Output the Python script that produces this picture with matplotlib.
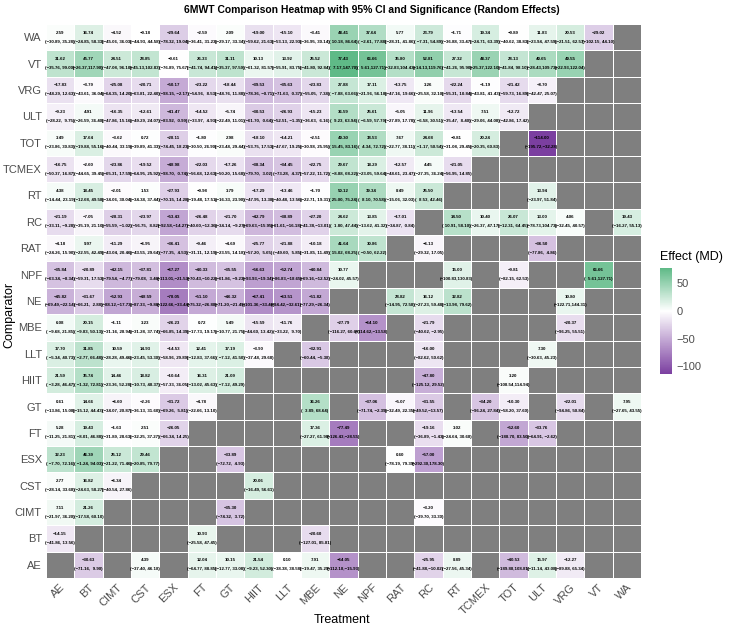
import matplotlib
matplotlib.use("Agg")
import matplotlib.pyplot as plt
import matplotlib.transforms as mtransforms
import numpy as np
from matplotlib.colors import LinearSegmentedColormap, Normalize

plt.rcParams['font.family'] = ['Liberation Sans', 'DejaVu Sans']

N = None
treatments = ["AE", "BT", "CIMT", "CST", "ESX", "FT", "GT", "HIIT", "LLT", "MBE", "NE",
              "NPF", "RAT", "RC", "RT", "TCMEX", "TOT", "ULT", "VRG", "VT", "WA"]
# comparators listed top row first
comparators = ["WA", "VT", "VRG", "ULT", "TOT", "TCMEX", "RT", "RC", "RAT", "NPF", "NE",
               "MBE", "LLT", "HIIT", "GT", "FT", "ESX", "CST", "CIMT", "BT", "AE"]

effect = [
    [2.59, 16.74, -4.52, -0.18, -29.64, -2.59, 2.09, -19.00, -15.10, -3.41, 48.41, 37.64, 5.77, 23.79, -1.71, 19.34, -0.89, 11.83, 20.53, -29.02, N],
    [31.62, 45.77, 24.51, 28.85, -0.61, 26.33, 31.11, 10.13, 13.92, 25.52, 77.43, 66.66, 35.80, 52.81, 27.32, 48.37, 28.13, 40.65, 49.55, N, N],
    [-17.83, -3.79, -25.08, -20.71, -50.17, -23.22, -18.44, -39.53, -35.63, -23.83, 27.88, 17.11, -13.75, 3.26, -22.24, -1.19, -21.42, -8.70, N, N, N],
    [-9.23, 4.91, -16.35, -12.61, -41.47, -14.52, -5.74, -30.53, -26.93, -15.23, 36.59, 25.61, -5.05, 11.96, -13.54, 7.51, -12.72, N, N, N, N],
    [3.49, 17.64, -3.62, 0.72, -28.11, -1.80, 2.98, -18.10, -14.21, -2.51, 49.30, 38.53, 7.67, 24.68, -0.81, 20.24, N, -114.00, N, N, N],
    [-16.75, -2.60, -23.86, -19.52, -48.98, -22.03, -17.26, -38.34, -34.45, -22.75, 29.67, 18.29, -12.57, 4.45, -21.05, N, N, N, N, N, N],
    [4.38, 18.45, -2.01, 1.53, -27.93, -0.98, 3.79, -17.29, -13.46, -1.70, 50.12, 39.34, 8.49, 25.50, N, N, N, 13.94, N, N, N],
    [-21.19, -7.05, -28.31, -23.97, -53.43, -26.48, -21.70, -42.79, -38.89, -27.20, 24.62, 13.85, -17.01, N, 34.50, 10.40, 26.07, 13.00, 4.06, N, 19.43],
    [-4.18, 9.97, -11.29, -6.95, -36.41, -9.46, -4.69, -25.77, -21.88, -10.18, 41.64, 30.86, N, -6.13, N, N, N, -36.50, N, N, N],
    [-35.84, -20.89, -42.15, -37.81, -67.27, -40.33, -35.55, -56.63, -52.74, -40.84, 10.77, N, N, N, 15.00, N, -9.81, N, N, 66.66, N],
    [-45.82, -31.67, -52.93, -48.59, -78.05, -51.10, -46.32, -67.41, -63.51, -51.82, N, N, 28.82, 16.12, 32.82, N, N, N, 10.80, N, N],
    [6.08, 20.15, -1.11, 3.23, -26.23, 0.72, 5.49, -15.59, -11.76, N, -27.79, -64.10, N, -21.79, N, N, N, N, -20.37, N, N],
    [17.70, 31.85, 10.59, 14.93, -14.53, 12.41, 17.19, -3.90, N, -32.91, N, N, N, -16.00, N, N, N, 7.30, N, N, N],
    [21.59, 35.74, 14.46, 18.82, -10.64, 16.31, 21.09, N, N, N, N, N, N, -47.80, N, N, 3.20, N, N, N, N],
    [0.61, 14.66, -6.60, -2.26, -31.72, -4.78, N, N, N, 36.26, N, -37.06, -5.07, -31.55, N, -34.20, -10.30, N, -22.01, N, 7.95],
    [5.28, 19.43, -1.63, 2.51, -26.05, N, N, N, N, 17.36, -77.49, N, N, -19.16, 3.02, N, -52.60, -33.76, N, N, N],
    [32.23, 46.39, 25.12, 29.46, N, N, -33.89, N, N, N, N, N, 0.60, -57.00, N, N, N, N, N, N, N],
    [2.77, 16.82, -6.34, N, N, N, N, 20.06, N, N, N, N, N, N, N, N, N, N, N, N, N],
    [7.11, 21.26, N, N, N, N, -35.30, N, N, N, N, N, N, -3.20, N, N, N, N, N, N, N],
    [-14.15, N, N, N, N, 10.93, N, N, N, -20.60, N, N, N, N, N, N, N, N, N, N, N],
    [N, -30.63, N, 4.39, N, 12.04, 10.15, 21.54, 0.10, 7.91, -64.05, N, N, -25.95, 8.89, N, -40.53, 15.97, -12.27, N, N],
]

ci_low = [
    [-30.89, -24.85, -45.06, -44.93, -78.32, -36.41, -29.17, -59.62, -53.13, -36.95, 10.18, -2.61, -28.31, -7.31, -36.88, -24.71, -40.62, -23.94, -21.51, -102.15, N],
    [-35.76, -26.37, -47.08, -45.13, -76.89, -41.74, -35.37, -61.32, -55.91, -41.80, 7.17, 5.61, -32.83, -14.13, -41.26, -25.37, -41.84, -28.43, -22.93, N, N],
    [-48.29, -43.61, -64.35, -63.81, -98.15, -54.96, -48.76, -78.36, -71.63, -55.05, -7.88, -21.96, -47.16, -25.58, -55.31, -43.81, -59.73, -42.47, N, N, N],
    [-28.22, -26.59, -47.86, -49.29, -83.92, -33.97, -22.49, -61.70, -52.51, -36.63, 9.23, -6.59, -27.89, -6.58, -35.47, -29.06, -42.86, N, N, N, N],
    [-23.86, -19.88, -40.44, -39.89, -74.45, -30.50, -23.48, -53.75, -47.67, -30.98, 15.45, 4.34, -22.77, -1.17, -31.08, -20.35, N, -195.72, N, N, N],
    [-50.37, -44.65, -65.31, -64.95, -98.70, -56.68, -50.20, -79.70, -73.28, -57.22, -8.88, -23.05, -48.61, -27.35, -56.95, N, N, N, N, N, N],
    [-14.44, -12.68, -34.06, -34.38, -70.15, -19.48, -16.33, -47.95, -40.48, -22.71, 25.00, 8.10, -15.06, 8.53, N, N, N, -23.97, N, N, N],
    [-33.11, -35.19, -55.59, -56.75, -92.58, -40.60, -34.14, -69.63, -61.61, -41.38, 1.80, -13.62, -34.87, N, 10.91, -26.37, -12.31, -78.73, -32.45, N, -16.27],
    [-24.26, -22.55, -43.04, -43.55, -77.35, -31.11, -23.55, -57.20, -49.60, -31.85, 15.02, -0.50, N, -29.32, N, N, N, -77.86, N, N, N],
    [-63.34, -59.31, -79.54, -79.08, -113.01, -70.43, -61.86, -93.93, -86.83, -69.16, -24.02, N, N, N, -100.83, N, -82.15, N, N, 5.61, N],
    [-69.49, -66.21, -88.12, -87.33, -122.66, -75.32, -71.20, -101.36, -94.42, -77.29, N, N, -14.95, -27.23, -13.98, N, N, N, -122.71, N, N],
    [-9.68, -9.83, -31.16, -31.28, -66.85, -17.73, -10.77, -44.60, -33.22, N, -116.27, -114.62, N, -40.62, N, N, N, N, -96.25, N, N],
    [-5.34, -2.77, -28.28, -23.45, -58.96, -12.83, -7.12, -37.48, N, -60.44, N, N, N, -82.62, N, N, N, -30.63, N, N, N],
    [-3.28, -1.32, -23.36, -10.73, -57.33, -13.02, -7.12, N, N, N, N, N, N, -125.12, N, N, -108.54, N, N, N, N],
    [-13.86, -15.12, -34.07, -36.13, -69.26, -22.66, N, N, N, 3.89, N, -71.74, -32.49, -49.52, N, -96.24, -58.20, N, -94.86, N, -27.65],
    [-11.25, -8.01, -31.89, -32.25, -66.34, N, N, N, N, -27.27, -126.43, N, N, -36.89, -24.64, N, -188.70, -64.91, N, N, N],
    [-7.70, -1.24, -21.22, -20.85, N, N, -72.72, N, N, N, N, N, -78.19, -292.30, N, N, N, N, N, N, N],
    [-28.14, -24.63, -40.54, N, N, N, N, -16.49, N, N, N, N, N, N, N, N, N, N, N, N, N],
    [-21.97, -17.58, N, N, N, N, -74.32, N, N, N, N, N, N, -39.70, N, N, N, N, N, N, N],
    [-41.86, N, N, N, N, -25.58, N, N, N, -127.01, N, N, N, N, N, N, N, N, N, N, N],
    [N, -71.16, N, -37.40, N, -64.77, -12.77, -9.23, -38.38, -19.47, -112.18, N, N, -41.88, -27.56, N, -189.88, -11.14, -89.88, N, N],
]

ci_high = [
    [35.28, 58.33, 36.03, 44.58, 19.04, 31.23, 33.34, 21.63, 22.93, 30.14, 86.64, 77.88, 41.86, 54.89, 33.47, 63.39, 38.83, 47.59, 62.57, 44.10, N],
    [99.00, 117.90, 96.10, 102.83, 75.67, 94.41, 97.59, 81.57, 83.75, 92.84, 147.70, 127.71, 104.43, 119.76, 95.90, 122.10, 98.10, 109.73, 122.04, N, N],
    [12.63, 36.04, 14.20, 22.40, -2.17, 8.53, 11.88, -0.71, 0.37, 7.38, 63.66, 56.18, 19.66, 32.10, 10.84, 41.43, 16.89, 25.07, N, N, N],
    [9.75, 36.40, 15.16, 24.07, 0.99, 4.93, 11.01, 0.64, -1.35, 6.16, 63.94, 57.79, 17.78, 30.51, 8.40, 44.08, 17.42, N, N, N, N],
    [30.83, 55.16, 33.19, 41.33, 18.23, 26.90, 29.44, 17.53, 19.25, 25.95, 83.16, 72.72, 38.11, 50.54, 29.45, 60.83, N, -32.28, N, N, N],
    [16.87, 39.45, 17.59, 25.92, 0.74, 12.63, 15.68, 3.02, 4.37, 11.72, 68.22, 59.64, 23.47, 36.24, 14.85, N, N, N, N, N, N],
    [23.19, 49.58, 30.04, 37.44, 14.28, 17.51, 23.90, 13.38, 13.56, 19.31, 75.24, 70.58, 32.03, 42.46, N, N, N, 51.84, N, N, N],
    [-9.28, 21.10, -1.02, 8.82, -14.27, -12.36, -9.27, -15.95, -16.18, -13.01, 47.44, 41.32, 0.84, N, 58.10, 47.17, 64.45, 104.73, 40.57, N, 55.13],
    [15.90, 42.49, 20.46, 29.64, 4.53, 12.19, 14.18, 5.65, 5.85, 11.49, 68.25, 62.22, N, 17.05, N, N, N, 4.86, N, N, N],
    [-8.34, 17.53, -4.77, 3.46, -21.53, -10.22, -9.23, -19.34, -18.65, -12.52, 45.57, N, N, N, 130.83, N, 62.53, N, N, 127.71, N],
    [-22.14, 2.88, -17.73, -9.86, -33.44, -26.88, -21.45, -33.46, -32.61, -26.34, N, N, 72.58, 59.48, 79.62, N, N, N, 144.31, N, N],
    [21.85, 50.13, 28.94, 37.74, 14.39, 19.17, 21.75, 13.42, 9.70, N, 60.69, -13.58, N, -2.95, N, N, N, N, 55.51, N, N],
    [40.73, 66.48, 49.46, 53.30, 29.89, 37.66, 41.50, 29.68, N, -5.38, N, N, N, 50.62, N, N, N, 45.23, N, N, N],
    [46.47, 72.81, 52.28, 48.37, 36.05, 45.63, 49.29, N, N, N, N, N, N, 29.52, N, N, 114.94, N, N, N, N],
    [15.08, 44.43, 20.87, 31.60, 5.81, 13.10, N, N, N, 68.64, N, -2.39, 22.35, -13.57, N, 27.84, 37.60, N, 50.84, N, 43.55],
    [21.81, 46.88, 28.63, 37.27, 14.25, N, N, N, N, 61.98, -28.55, N, N, -1.43, 30.68, N, 83.50, -2.62, N, N, N],
    [72.16, 94.03, 71.46, 79.77, N, N, 4.93, N, N, N, N, N, 79.39, 178.30, N, N, N, N, N, N, N],
    [33.68, 58.27, 27.86, N, N, N, N, 56.61, N, N, N, N, N, N, N, N, N, N, N, N, N],
    [36.20, 60.10, N, N, N, N, 3.72, N, N, N, N, N, N, 33.30, N, N, N, N, N, N, N],
    [13.56, N, N, N, N, 47.45, N, N, N, 85.81, N, N, N, N, N, N, N, N, N, N, N],
    [N, 9.90, N, 46.18, N, 88.85, 33.08, 52.30, 38.58, 35.29, -15.93, N, N, -10.02, 45.34, N, 108.81, 43.08, 65.34, N, N],
]

nrow, ncol = len(comparators), len(treatments)
vals = np.array([[np.nan if v is None else v for v in row] for row in effect], dtype=float)
masked = np.ma.masked_invalid(vals)

vmin, vmax = np.nanmin(vals), np.nanmax(vals)
mid = (0 - vmin) / (vmax - vmin)
cmap = LinearSegmentedColormap.from_list(
    "pg", [(0.0, "#7b3fa0"), (mid, "#ffffff"), (1.0, "#5fba87")])
cmap.set_bad("#7f7f7f")
norm = Normalize(vmin=vmin, vmax=vmax)

fig = plt.figure(figsize=(7.41, 6.30), dpi=100)
ax = fig.add_axes([0.0620, 0.0825, 0.8030, 0.8794])
mesh = ax.pcolormesh(np.arange(ncol + 1), np.arange(nrow + 1), masked[::-1],
                     cmap=cmap, norm=norm, edgecolors="white", linewidth=0.5)

def fmt(x):
    return x.replace("-", "\u2212")

for i, comp in enumerate(comparators):
    y = nrow - 1 - i + 0.5
    for j in range(ncol):
        v = effect[i][j]
        if v is None:
            continue
        ax.text(j + 0.5, y + 0.17, fmt(f"{v:.2f}"), ha="center", va="center",
                fontsize=3.2, fontweight="bold", color="black")
        ax.text(j + 0.5, y - 0.17, fmt(f"({ci_low[i][j]:6.2f},{ci_high[i][j]:6.2f})"),
                ha="center", va="center", fontsize=3.2, fontweight="bold", color="black")

ax.set_xlim(0, ncol)
ax.set_ylim(0, nrow)
ax.set_xticks(np.arange(ncol) + 0.5)
ax.set_xticklabels(treatments, rotation=45, ha="right", rotation_mode="anchor")
shift = mtransforms.ScaledTranslation(-8 / 100, 0, fig.dpi_scale_trans)
for lab in ax.get_xticklabels():
    lab.set_transform(lab.get_transform() + shift)
ax.set_yticks(np.arange(nrow) + 0.5)
ax.set_yticklabels(comparators[::-1])
ax.tick_params(length=0, labelsize=8, labelcolor="#4d4d4d", pad=3)
for s in ax.spines.values():
    s.set_visible(False)

fig.text(0.462, 1 - 620 / 630, "Treatment", fontsize=9, ha="center", va="center")
fig.text(9 / 741, 0.5, "Comparator", fontsize=9, ha="center", va="center", rotation=90)
fig.text(0.502, 1 - 10 / 630,
         "6MWT Comparison Heatmap with 95% CI and Significance (Random Effects)",
         fontsize=7.5, fontweight="bold", ha="center", va="center")

cax = fig.add_axes([0.8907, 0.4063, 0.0162, 0.168])
cb = fig.colorbar(mesh, cax=cax, ticks=[50, 0, -50, -100])
cb.outline.set_visible(False)
cb.ax.tick_params(length=0, labelsize=8, labelcolor="#4d4d4d", pad=3)
cb.ax.set_title("Effect (MD)", fontsize=9, loc="left", pad=6)

fig.savefig("out.png", dpi=100)
